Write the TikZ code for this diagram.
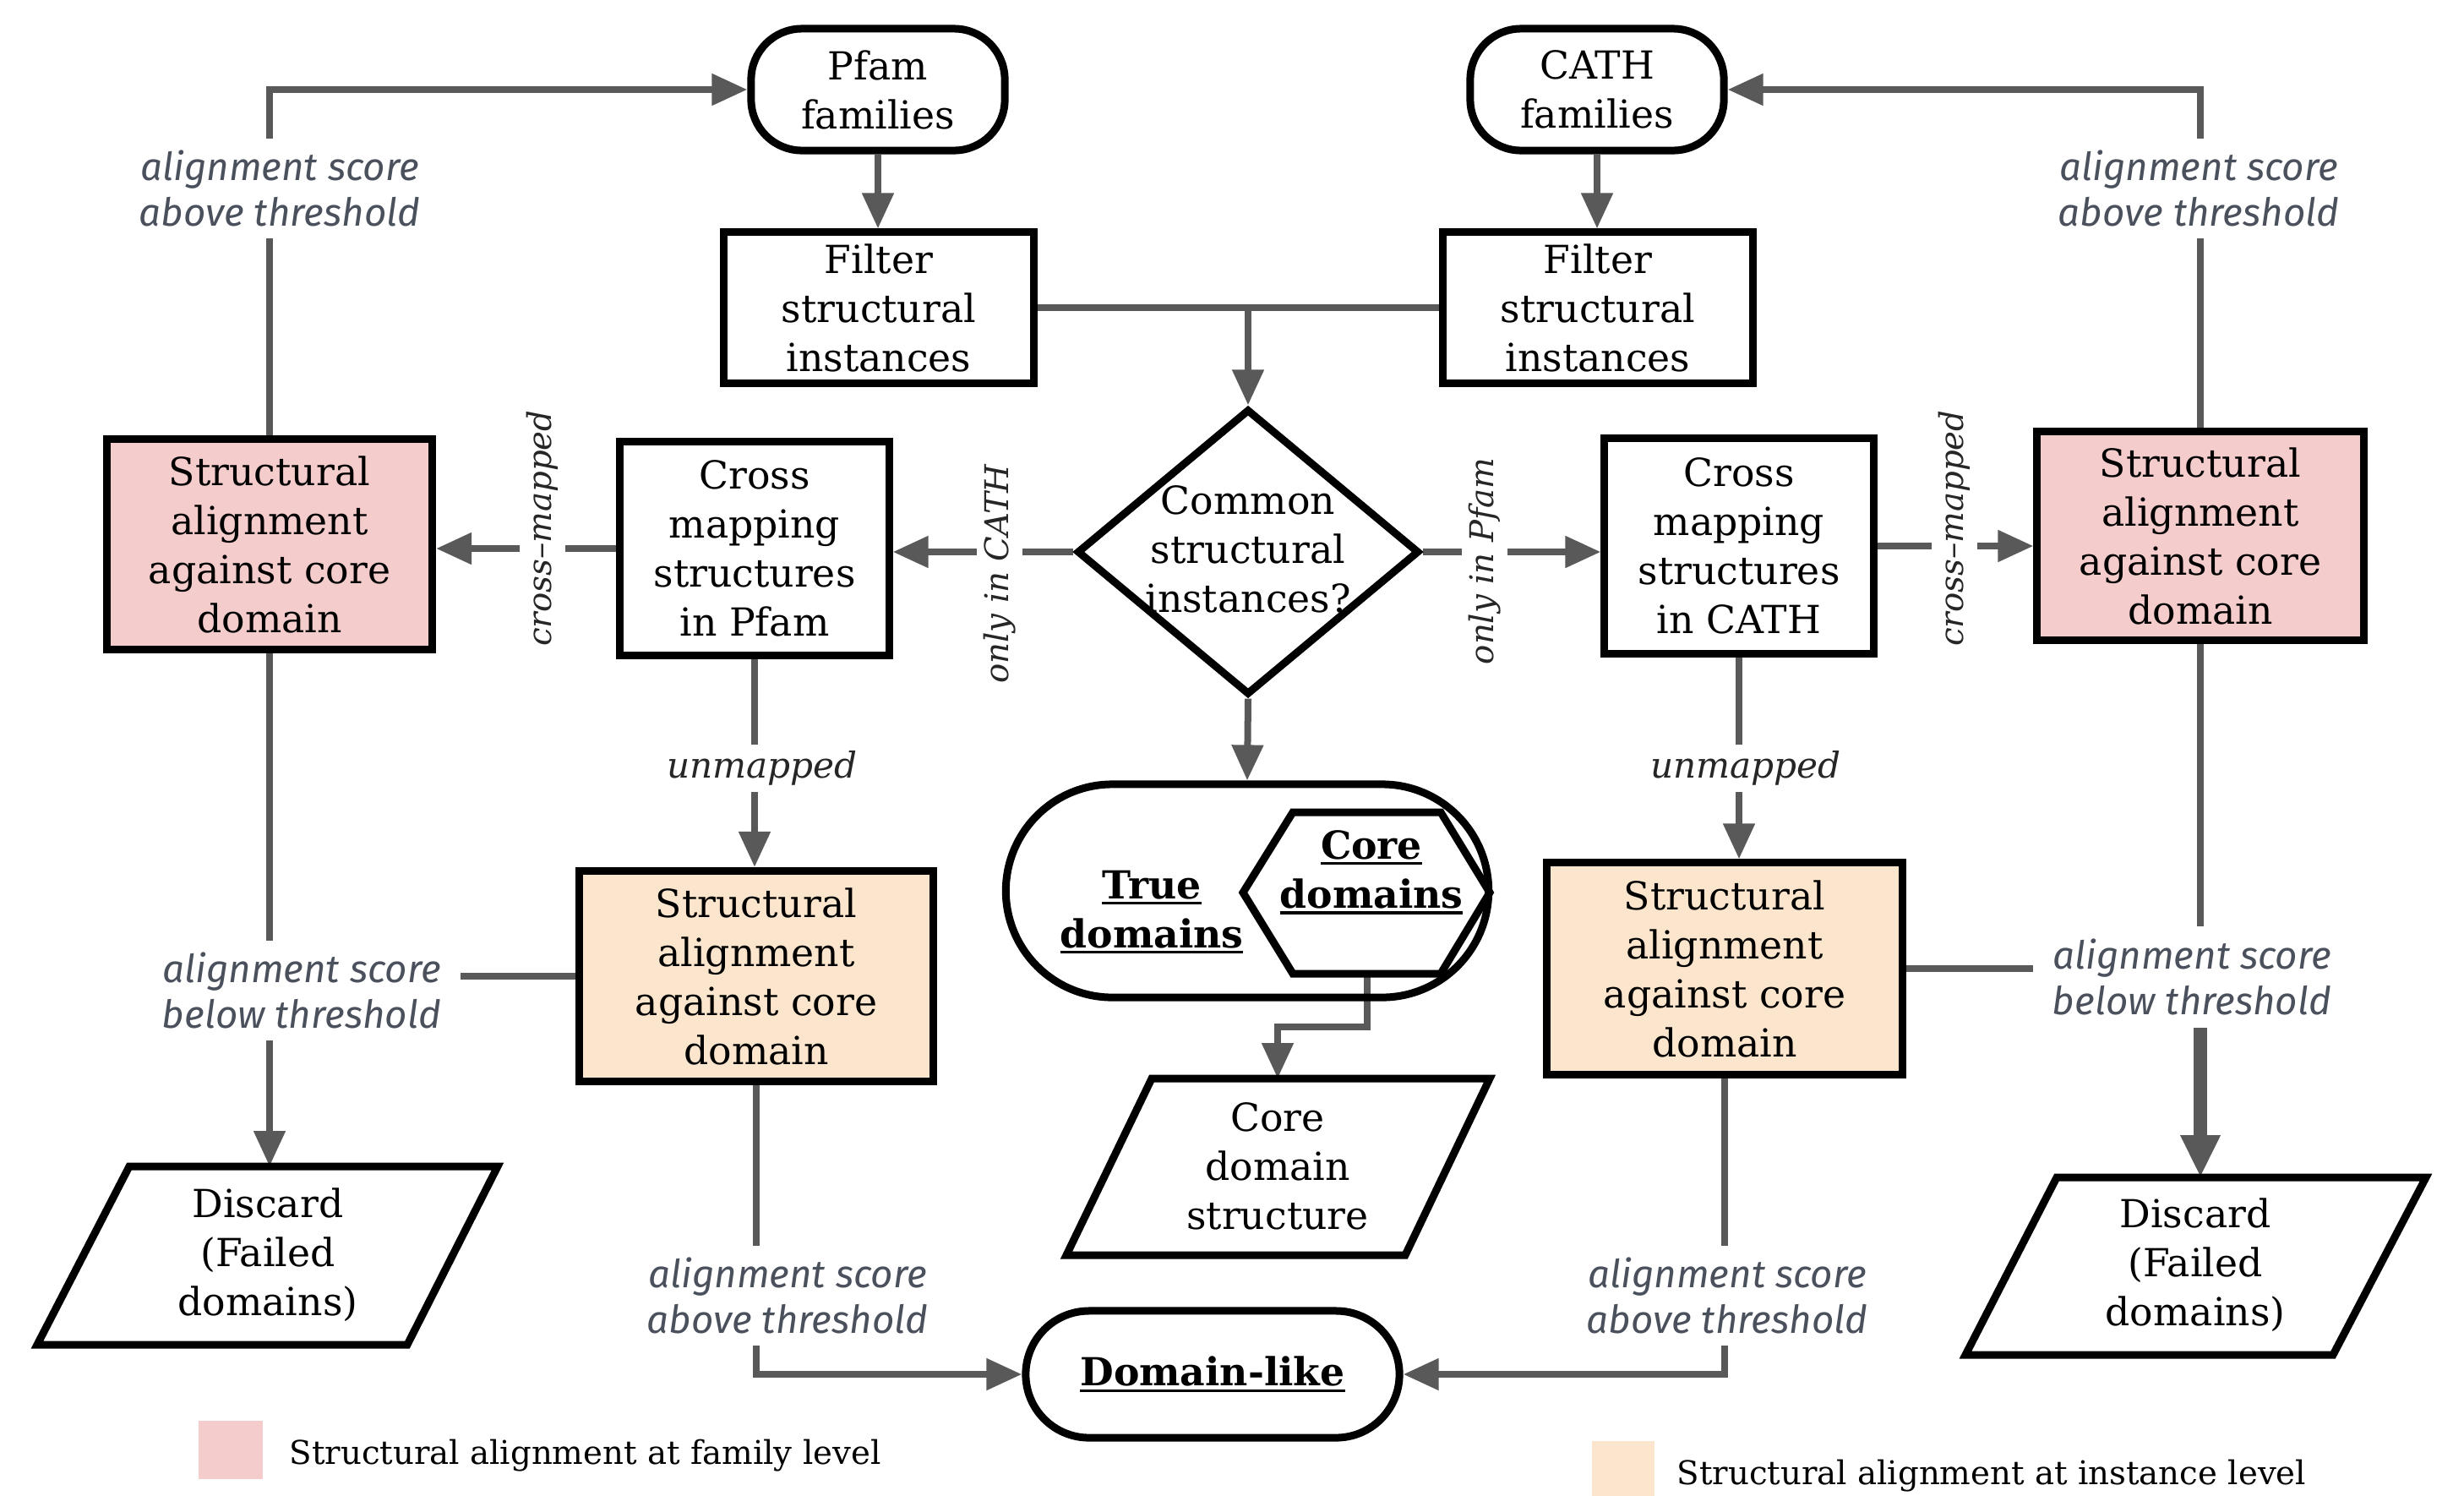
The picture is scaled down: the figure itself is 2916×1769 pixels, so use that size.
\documentclass[tikz,border=0pt]{standalone}
\usepackage{fontspec}
\setmainfont{DejaVu Serif}
\newfontfamily\lblsans{Fira Sans}
\usetikzlibrary{arrows.meta,shapes.geometric,backgrounds}
\definecolor{pinkfill}{HTML}{F4CCCC}
\definecolor{orangefill}{HTML}{FCE5CD}
\definecolor{conncol}{HTML}{595959}
\definecolor{lblcol}{HTML}{4A505C}
\newcommand{\myNodeFont}{\fontsize{13}{16.5}\selectfont}
\newcommand{\myBoldFont}{\bfseries\fontsize{13}{16.5}\selectfont}
\newcommand{\myLblFont}{\lblsans\itshape\fontsize{13}{15.4}\selectfont}
\newcommand{\mySerifIt}{\itshape\fontsize{12}{15}\selectfont}
\newcommand{\mySerifItR}{\itshape\fontsize{11}{14}\selectfont}
\newcommand{\myLegFont}{\fontsize{11}{13}\selectfont}
\newcommand{\myul}[1]{\setbox0\hbox{#1}\rlap{\rule[-2pt]{\wd0}{0.9pt}}\box0}
\tikzset{
  proc/.style={draw=black, line width=0.09cm, align=center, font=\myNodeFont, inner sep=0pt},
  term/.style={proc, rounded corners=0.6cm},
  pinkbox/.style={proc, fill=pinkfill},
  orangebox/.style={proc, fill=orangefill},
  shapeline/.style={draw=black, line width=0.09cm, line join=miter},
  conn/.style={draw=conncol, line width=0.08cm},
  arr/.style={conn, -{Triangle[length=0.42cm,width=0.36cm]}},
  lbl/.style={font=\myLblFont, text=lblcol, fill=white, align=center, inner xsep=0.22cm, inner ysep=0.14cm},
  ilbl/.style={font=\mySerifIt, text=black!85, fill=white, inner xsep=0.05cm, inner ysep=0.08cm},
  rlbl/.style={ilbl, font=\mySerifItR, rotate=90},
  txt/.style={font=\myNodeFont, align=center, inner sep=0pt}
}
\begin{document}
\begin{tikzpicture}[x=0.01cm,y=-0.01cm]
\useasboundingbox (0,0) rectangle (2916,1769);

% main nodes
\node[term, minimum width=3.0cm, minimum height=1.44cm] (pfam) at (1039,106) {Pfam\\families};
\node[term, minimum width=3.0cm, minimum height=1.44cm] (cath) at (1890,106) {CATH\\families};
\node[proc, minimum width=3.66cm, minimum height=1.78cm] (filterL) at (1040,364) {Filter\\structural\\instances};
\node[proc, minimum width=3.66cm, minimum height=1.78cm] (filterR) at (1891,364) {Filter\\structural\\instances};
\node[diamond, shapeline, minimum width=4.05cm, minimum height=3.38cm, inner sep=0pt] (dia) at (1477,653) {};
\node[txt] (diaTxt) at (1477,650) {Common\\structural\\instances?};
\node[proc, minimum width=3.18cm, minimum height=2.52cm] (crossL) at (893,649) {Cross\\mapping\\structures\\in Pfam};
\node[proc, minimum width=3.18cm, minimum height=2.54cm] (crossR) at (2058,646) {Cross\\mapping\\structures\\in CATH};
\node[pinkbox, minimum width=3.85cm, minimum height=2.48cm] (pinkL) at (319,644) {Structural\\alignment\\against core\\domain};
\node[pinkbox, minimum width=3.86cm, minimum height=2.47cm] (pinkR) at (2604,634) {Structural\\alignment\\against core\\domain};
\node[orangebox, minimum width=4.19cm, minimum height=2.49cm] (orangeL) at (895,1155) {Structural\\alignment\\against core\\domain};
\node[orangebox, minimum width=4.20cm, minimum height=2.50cm] (orangeR) at (2041,1146) {Structural\\alignment\\against core\\domain};

% true domains with core hexagon
\node[proc, rounded corners=1.26cm, minimum width=5.71cm, minimum height=2.52cm] (trueD) at (1476,1054) {};
\draw[shapeline] (1471,1056) -- (1530,961) -- (1705,961) -- (1763,1056) -- (1705,1152) -- (1530,1152) -- cycle;
\coordinate (hexB) at (1618,1152);
\node[txt, font=\myBoldFont] (trueTxt) at (1363,1079) {\myul{True}\\\myul{domains}};
\node[txt, font=\myBoldFont] (coreTxt) at (1623,1032) {\myul{Core}\\\myul{domains}};

% core domain structure parallelogram
\draw[shapeline] (1363,1276) -- (1763,1276) -- (1663,1485) -- (1262,1485) -- cycle;
\coordinate (cdsIn) at (1512,1276);
\node[txt] (cds) at (1512,1380) {Core\\domain\\structure};

% discard parallelograms
\draw[shapeline] (153,1380) -- (589,1380) -- (482,1591) -- (44,1591) -- cycle;
\coordinate (discLIn) at (319,1380);
\node[txt] (discL) at (317,1485) {Discard\\(Failed\\domains)};
\draw[shapeline] (2434,1393) -- (2871,1393) -- (2761,1603) -- (2326,1603) -- cycle;
\coordinate (discRIn) at (2604,1393);
\node[txt] (discR) at (2598,1497) {Discard\\(Failed\\domains)};

% domain-like
\node[proc, rounded corners=0.75cm, minimum width=4.42cm, minimum height=1.50cm, font=\myBoldFont] (domain) at (1435,1626) {\myul{Domain-like}};

% labels
\node[lbl] (lblTL) at (331,223) {alignment score\\above threshold};
\node[lbl] (lblTR) at (2602,223) {alignment score\\above threshold};
\node[lbl] (lblBL) at (357,1172) {alignment score\\below threshold};
\node[lbl] (lblBR) at (2594,1156) {alignment score\\below threshold};
\node[lbl] (lblAL) at (932,1533) {alignment score\\above threshold};
\node[lbl] (lblAR) at (2044,1533) {alignment score\\above threshold};
\node[ilbl] (unmapL) at (902,909) {unmapped};
\node[ilbl] (unmapR) at (2066,909) {unmapped};
\node[rlbl] (cmL) at (642,625) {cross–mapped};
\node[rlbl] (cmR) at (2313,625) {cross–mapped};
\node[rlbl] (onlyC) at (1183,679) {only in CATH};
\node[rlbl] (onlyP) at (1757,664) {only in Pfam};

% legend
\node[fill=pinkfill, minimum width=0.75cm, minimum height=0.69cm, inner sep=0pt] (legP) at (273,1715) {};
\node[anchor=west, font=\myLegFont, inner sep=0pt] (legPtxt) at (342,1722) {Structural alignment at family level};
\node[fill=orangefill, minimum width=0.74cm, minimum height=0.75cm, inner sep=0pt] (legO) at (1921,1742) {};
\node[anchor=west, font=\myLegFont, inner sep=0pt] (legOtxt) at (1984,1746) {Structural alignment at instance level};

% connectors
\begin{pgfonlayer}{background}
\draw[arr] (pfam.south) -- (pfam.south |- filterL.north);
\draw[arr] (cath.south) -- (cath.south |- filterR.north);
\coordinate (jn) at (dia.north |- filterL.east);
\draw[conn] (filterL.east) -- (filterR.west);
\draw[arr] (jn) -- (dia.north);
\draw[arr] (dia.west) -- (dia.west -| crossL.east);
\draw[arr] (dia.east) -- (dia.east -| crossR.west);
\draw[arr] (crossL.west) -- (crossL.west -| pinkL.east);
\draw[arr] (crossR.east) -- (crossR.east -| pinkR.west);
\draw[arr] (pinkL.north) |- (pfam.west);
\draw[arr] (pinkR.north) |- (cath.east);
\draw[arr] (crossL.south) -- (crossL.south |- orangeL.north);
\draw[arr] (crossR.south) -- (crossR.south |- orangeR.north);
\draw[arr] (pinkL.south) -- (discLIn);
\draw[conn] (orangeL.west) -- (orangeL.west -| lblBL.east);
\draw[conn] (pinkR.south) -- (pinkR.south |- lblBR.north);
\draw[conn, line width=0.16cm, -{Triangle[length=0.5cm,width=0.44cm]}] (pinkR.south |- lblBR.south) -- (discRIn);
\draw[conn] (orangeR.east) -- (orangeR.east -| lblBR.west);
\draw[arr] (orangeL.south) |- (domain.west);
\draw[arr] (orangeR.south) |- (domain.east);
\draw[arr] (dia.south) -- (trueD.north);
\draw[arr] (hexB) -- ++(0,63) -| (cdsIn);
\end{pgfonlayer}
\end{tikzpicture}
\end{document}
